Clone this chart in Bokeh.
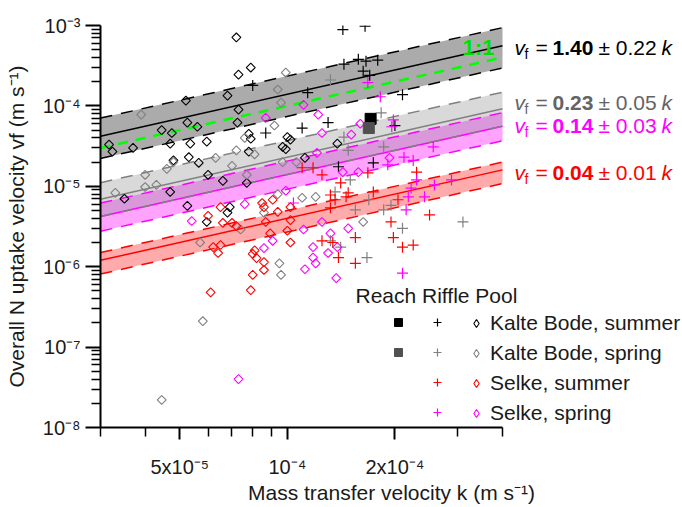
import numpy as np
from bokeh.plotting import figure
from bokeh.models import FixedTicker, Label, Legend, LegendItem, Range1d
from bokeh.embed import file_html
from bokeh.resources import INLINE
from bokeh.core.properties import value

FONT = "Liberation Sans"

# ---------------- data ----------------
# Kalte Bode, summer
kb_su_pool_k = [7.2e-5, 7.3e-5, 7.9e-5, 5.2e-5, 6.8e-5, 7.3e-5, 3.17e-5, 3.24e-5, 3.7e-5, 4.45e-5,
                4.75e-5, 4.7e-5, 5.25e-5, 5.6e-5, 5.35e-5, 5.95e-5, 7.25e-5, 7.8e-5, 7.9e-5, 4.8e-5,
                5.3e-5, 5.65e-5, 6.0e-5, 6.6e-5, 7.7e-5, 4.7e-5, 3.5e-5, 5.25e-5, 7.8e-5, 9.7e-5,
                1.0e-4, 9.9e-5, 1.12e-4, 1.38e-4, 6.9e-5, 6.8e-5, 5.95e-5, 1.02e-4]
kb_su_pool_v = [7.1e-4, 2.45e-4, 3.0e-4, 1.16e-4, 1.34e-4, 9.0e-5, 3.3e-5, 2.7e-5, 3.0e-5, 5.0e-5,
                4.6e-5, 3.4e-5, 6.2e-5, 5.5e-5, 3.4e-5, 3.6e-5, 6.2e-5, 4.5e-5, 3.9e-5, 2.1e-5,
                2.3e-5, 1.96e-5, 1.39e-5, 1.17e-5, 1.1e-5, 8.5e-6, 7.0e-6, 5.7e-6, 2.7e-5, 3.1e-5,
                4.1e-5, 2.9e-5, 2.26e-5, 3.4e-5, 5.5e-6, 4.7e-6, 3.6e-6, 3.8e-5]
kb_su_riffle_k = [1.43e-4, 1.65e-4, 1.44e-4, 1.58e-4, 1.66e-4, 1.79e-4, 1.63e-4, 1.70e-4, 2.1e-4,
                  2.0e-4, 1.74e-4, 1.39e-4, 8.0e-5, 1.14e-4, 1.1e-4, 1.3e-4, 8.7e-5]
kb_su_riffle_v = [8.9e-4, 9.8e-4, 3.3e-4, 3.8e-4, 3.6e-4, 3.7e-4, 2.7e-4, 2.4e-4, 1.38e-4,
                  5.7e-5, 1.96e-5, 1.75e-5, 1.8e-4, 1.46e-4, 5.3e-5, 6.2e-5, 4.6e-5]
kb_su_reach_k = [1.71e-4]
kb_su_reach_v = [6.9e-5]

# Kalte Bode, spring
kb_sp_pool_k = [3.9e-5, 9.9e-5, 9.4e-5, 9.6e-5, 9.2e-5, 7.6e-5, 8.1e-5, 7.2e-5, 7.0e-5, 6.3e-5,
                4.6e-5, 4.0e-5, 4.3e-5, 4.0e-5, 3.3e-5, 7.7e-5, 9.7e-5, 1.06e-4, 1.1e-4, 1.2e-4,
                8.6e-5, 7.4e-5, 5.7e-5, 9.4e-5, 9.5e-5, 9.6e-5, 5.8e-5, 4.45e-5, 1.63e-4, 4.8e-5]
kb_sp_pool_v = [7.8e-5, 2.6e-4, 1.6e-4, 1.1e-4, 5.7e-5, 4.0e-5, 2.5e-5, 2.8e-5, 1.8e-5, 2.26e-5,
                1.65e-5, 1.39e-5, 1.04e-5, 9.8e-6, 8.3e-6, 1.39e-5, 2.0e-5, 2.0e-5, 7.2e-6, 7.4e-6,
                4.7e-6, 2.9e-6, 2.0e-6, 8.0e-6, 1.1e-6, 7.9e-7, 2.1e-7, 2.2e-8, 3.6e-6, 2.0e-5]
kb_sp_riffle_k = [1.32e-4, 1.83e-4, 1.44e-4, 1.48e-4, 1.86e-4, 1.36e-4, 1.5e-4, 1.55e-4, 1.86e-4,
                  1.69e-4, 1.95e-4, 2.1e-4, 3.1e-4, 1.67e-4, 1.32e-4, 1.41e-4]
kb_sp_riffle_v = [2.1e-4, 8.2e-5, 4.1e-5, 2.8e-5, 3.1e-5, 8.5e-6, 1.2e-5, 5.1e-6, 5.1e-6,
                  6.8e-6, 5.8e-6, 3.0e-6, 3.6e-6, 1.3e-6, 2.1e-6, 1.75e-6]
kb_sp_reach_k = [1.69e-4]
kb_sp_reach_v = [5.3e-5]

# Selke, summer
se_su_riffle_k = [1.41e-4, 1.36e-4, 1.46e-4, 1.74e-4, 1.68e-4, 2.04e-4, 2.3e-4, 2.5e-4, 1.95e-4,
                  1.98e-4, 2.1e-4, 2.25e-4, 1.55e-4, 1.39e-4, 1.55e-4, 1.1e-4, 1.25e-4, 1.32e-4,
                  1.25e-4, 1.34e-4, 1.18e-4, 1.48e-4, 1.32e-4]
se_su_riffle_v = [1.1e-5, 6.8e-6, 7.4e-6, 8.5e-6, 1.47e-5, 6.8e-6, 1.5e-5, 4.4e-6, 3.6e-6,
                  2.3e-6, 1.75e-6, 1.86e-6, 2.3e-6, 1.3e-6, 1.1e-6, 1.7e-5, 1.39e-5, 7.8e-6,
                  2.1e-6, 2.0e-6, 1.7e-5, 8.3e-6, 5.4e-6]
se_su_pool_k = [6.5e-5, 6.0e-5, 6.6e-5, 7.0e-5, 7.2e-5, 8.5e-5, 8.6e-5, 8.7e-5, 9.4e-5, 1.02e-4,
                1.0e-4, 8.95e-5, 8.1e-5, 6.5e-5, 6.2e-5, 6.4e-5, 8.0e-5, 8.2e-5, 8.6e-5, 8.0e-5,
                8.6e-5, 6.1e-5, 7.9e-5, 9.1e-5, 1.02e-4, 1.02e-4]
se_su_pool_v = [5.5e-6, 4.3e-6, 3.5e-6, 3.5e-6, 3.2e-6, 6.2e-6, 5.5e-6, 3.6e-6, 4.8e-6, 3.8e-6,
                2.8e-6, 2.6e-6, 1.6e-6, 1.86e-6, 1.75e-6, 1.48e-6, 1.44e-6, 1.28e-6, 1.14e-6, 7.9e-7,
                9.1e-7, 4.8e-7, 5.1e-7, 6.8e-6, 5.5e-6, 2.0e-6]

# Selke, spring
se_sp_riffle_k = [1.68e-4, 1.82e-4, 1.98e-4, 1.96e-4, 2.56e-4, 2.12e-4, 2.25e-4, 1.91e-4, 2.3e-4,
                  2.58e-4, 2.88e-4, 2.22e-4, 2.18e-4, 2.42e-4, 2.15e-4, 2.1e-4, 1.04e-4]
se_sp_riffle_v = [1.95e-4, 1.3e-4, 6.7e-5, 5.5e-5, 3.1e-5, 2.3e-5, 2.1e-5, 1.85e-5, 1.2e-5,
                  1.04e-5, 1.2e-5, 9.5e-6, 7.4e-6, 7.4e-6, 5.1e-6, 8.3e-7, 6.2e-6]
se_sp_pool_k = [1.11e-4, 1.22e-4, 1.25e-4, 1.21e-4, 8.7e-5, 9.9e-5, 7.6e-5, 5.4e-5, 9.1e-5, 1.11e-4,
                1.25e-4, 1.18e-4, 1.32e-4, 8.6e-5, 1.6e-4, 1.51e-4, 1.93e-4, 1.43e-4, 1.58e-4, 1.48e-4,
                1.38e-4, 1.12e-4, 1.18e-4, 1.2e-4, 1.3e-4, 1.37e-4, 7.3e-5]
se_sp_pool_v = [1.03e-4, 7.8e-5, 4.6e-5, 2.6e-5, 7.1e-5, 8.8e-6, 6.0e-6, 3.7e-6, 2.1e-6, 2.9e-6,
                3.6e-6, 1.75e-6, 2.6e-6, 1.7e-6, 6.0e-5, 4.4e-5, 2.26e-5, 1.5e-5, 1.5e-5, 3.0e-6,
                1.75e-6, 9.3e-7, 1.3e-6, 1.1e-6, 1.48e-6, 7.2e-7, 4.0e-8]

# fits v_f = a * k, with the shaded band limits (as multiples of k)
fit_k_extent = [3e-5, 4e-4]
fit_names = ["Kalte Bode, summer", "Kalte Bode, spring", "Selke, spring", "Selke, summer"]
fit_coef = [1.40, 0.23, 0.14, 0.04]
fit_pm = [0.22, 0.05, 0.03, 0.01]
fit_band_hi = [2.35, 0.37, 0.206, 0.050]
fit_band_lo = [0.74, 0.14, 0.092, 0.027]

x_ticks = [5e-5, 1e-4, 2e-4]
x_tick_labels = ["5x10\u207b\u2075", "10\u207b\u2074", "2x10\u207b\u2074"]
x_minor = [3e-5, 4e-5, 6e-5, 7e-5, 8e-5, 9e-5, 3e-4, 4e-4]
y_ticks = [1e-8, 1e-7, 1e-6, 1e-5, 1e-4, 1e-3]
y_tick_labels = ["10\u207b\u2078", "10\u207b\u2077", "10\u207b\u2076", "10\u207b\u2075",
                 "10\u207b\u2074", "10\u207b\u00b3"]

# ---------------- layout ----------------
X0, X1 = fit_k_extent          # drawn extent of the x axis
AXIS_W, FRAME_W, FRAME_H = 402, 582, 402
x_right = X0 * 10 ** (FRAME_W / AXIS_W * np.log10(X1 / X0))   # frame extends under the right-hand texts

p = figure(frame_width=FRAME_W, frame_height=FRAME_H, x_axis_type="log", y_axis_type="log",
           x_range=Range1d(X0, x_right), y_range=Range1d(1e-8, 1e-3),
           output_backend="svg", toolbar_location=None,
           min_border_left=100, min_border_right=0, min_border_top=25, min_border_bottom=80)
p.grid.visible = False
p.outline_line_color = None

band_style = {
    "Kalte Bode, summer": dict(fill="#000000", alpha=0.33, line="#000000"),
    "Kalte Bode, spring": dict(fill="#808080", alpha=0.30, line="#808080"),
    "Selke, spring": dict(fill="#ff00ff", alpha=0.36, line="#ff00ff"),
    "Selke, summer": dict(fill="#ff0000", alpha=0.33, line="#ff0000"),
}
kx = np.array(fit_k_extent)
draw_order = ["Selke, summer", "Selke, spring", "Kalte Bode, spring", "Kalte Bode, summer"]
for name in draw_order:
    i = fit_names.index(name)
    st = band_style[name]
    p.varea(x=kx, y1=fit_band_lo[i] * kx, y2=fit_band_hi[i] * kx,
            fill_color=st["fill"], fill_alpha=st["alpha"])

for name in draw_order:
    i = fit_names.index(name)
    st = band_style[name]
    p.line(kx, fit_coef[i] * kx, line_color=st["line"], line_width=1.5)
    p.line(kx, fit_band_hi[i] * kx, line_color=st["line"], line_width=1.5, line_dash="12 9")
    p.line(kx, fit_band_lo[i] * kx, line_color=st["line"], line_width=1.5, line_dash="12 9")

# 1:1 line
p.line(kx, kx, line_color="#00ff00", line_width=2.5, line_dash="10 8")

DIAM = dict(marker="square", angle=np.pi / 4, size=6.3, fill_color=None, line_width=1.1)
CROSS = dict(marker="cross", size=11, line_width=1.2)

series = [
    ("#000000", kb_su_riffle_k, kb_su_riffle_v, kb_su_pool_k, kb_su_pool_v),
    ("#808080", kb_sp_riffle_k, kb_sp_riffle_v, kb_sp_pool_k, kb_sp_pool_v),
    ("#ff0000", se_su_riffle_k, se_su_riffle_v, se_su_pool_k, se_su_pool_v),
    ("#ff00ff", se_sp_riffle_k, se_sp_riffle_v, se_sp_pool_k, se_sp_pool_v),
]
leg_names = ["Kalte Bode, summer", "Kalte Bode, spring", "Selke, summer", "Selke, spring"]
riffle_items, pool_items = [], []
for (c, rk, rv, pk, pv), nm in zip(series, leg_names):
    p.scatter(pk, pv, line_color=c, **DIAM)
    rr = p.scatter(rk, rv, line_color=c, **CROSS)
    # legend-only glyph for the pool symbol (a NaN point, never drawn in the plot)
    dummy = p.scatter(x=[np.nan], y=[np.nan], marker="diamond", line_color=c,
                      fill_color=None, line_width=1.1)
    riffle_items.append(LegendItem(label=value(" "), renderers=[rr]))
    pool_items.append(LegendItem(label=value(nm), renderers=[dummy]))

r1 = p.scatter(kb_su_reach_k, kb_su_reach_v, marker="square", size=11, fill_color="#000000", line_color="#000000")
r2 = p.scatter(kb_sp_reach_k, kb_sp_reach_v, marker="square", size=11, fill_color="#505050", line_color="#505050")
reach_items = [LegendItem(label=value(" "), renderers=[r1]), LegendItem(label=value(" "), renderers=[r2])]


def make_legend(items, loc, standoff=2, spacing=10, fs="20px"):
    lg = Legend(items=items, location=loc, orientation="vertical",
                glyph_width=20, glyph_height=20, label_height=20, spacing=spacing,
                padding=0, margin=0, label_standoff=standoff,
                border_line_alpha=0, background_fill_alpha=0,
                label_text_font=FONT, label_text_font_size=fs, label_text_color="#1a1a1a")
    p.add_layout(lg)
    return lg


make_legend(reach_items, (288, 65))
make_legend(riffle_items, (327, 5))
make_legend(pool_items, (366, 2), standoff=4, spacing=6, fs="21px")

p.add_layout(Label(x=255, y=132, x_units="screen", y_units="screen", text="Reach Riffle Pool",
                   text_font=FONT, text_font_size="21px", text_baseline="middle", text_color="#1a1a1a"))

# 1:1 label
p.add_layout(Label(x=362, y=380, x_units="screen", y_units="screen", text="1:1",
                   text_font=FONT, text_font_size="22px", text_font_style="bold",
                   text_baseline="middle", text_color="#00e000"))

# equations on the right
eq_rows = [("Kalte Bode, summer", 380, "#000000"), ("Kalte Bode, spring", 325, "#646464"),
           ("Selke, spring", 302, "#ff00ff"), ("Selke, summer", 255, "#ff0000")]
for name, yy, col in eq_rows:
    i = fit_names.index(name)
    parts = [
        (414, 0, "v", "italic", "21px"),
        (424, -6, "f", "normal", "14px"),
        (435, 0, "=", "normal", "21px"),
        (452, 0, f"{fit_coef[i]:.2f}", "bold", "21px"),
        (498, 0, f"\u00b1 {fit_pm[i]:.2f}", "normal", "21px"),
        (561, 0, "k", "italic", "21px"),
    ]
    for xx, dy, txt, style, fs in parts:
        p.add_layout(Label(x=xx, y=yy + dy, x_units="screen", y_units="screen", text=txt,
                           text_font=FONT, text_font_size=fs, text_font_style=style,
                           text_baseline="middle", text_color=col))

# axes
p.xaxis.bounds = (X0, X1)
p.xaxis.ticker = FixedTicker(ticks=x_ticks, minor_ticks=x_minor)
p.xaxis.major_label_overrides = {t: s for t, s in zip(x_ticks, x_tick_labels)}
p.yaxis.ticker = FixedTicker(ticks=y_ticks,
                             minor_ticks=[m * t for t in y_ticks[:-1] for m in range(2, 10)])
p.yaxis.major_label_overrides = {t: s for t, s in zip(y_ticks, y_tick_labels)}

for ax in (p.xaxis, p.yaxis):
    ax.axis_line_width = 2
    ax.axis_line_color = "#000000"
    ax.major_tick_line_width = 2
    ax.minor_tick_line_width = 1.5
    ax.major_tick_in = 0
    ax.minor_tick_in = 0
    ax.minor_tick_out = 9
    ax.major_label_text_font = FONT
    ax.major_label_text_font_size = "20px"
    ax.major_label_text_color = "#1a1a1a"
    ax.axis_label_text_font = FONT
    ax.axis_label_text_font_size = "21px"
    ax.axis_label_text_font_style = "normal"
    ax.axis_label_text_color = "#1a1a1a"

p.xaxis.major_tick_out = 12
p.yaxis.major_tick_out = 15
p.xaxis.major_label_standoff = 16
p.yaxis.major_label_standoff = 5
p.xaxis.axis_label = "Mass transfer velocity k (m s\u207b\u00b9)"
p.yaxis.axis_label = "Overall N uptake velocity vf (m s\u207b\u00b9)"
p.xaxis.axis_label_standoff = 0
p.yaxis.axis_label_standoff = 12

open("out.html", "w").write(file_html(p, INLINE))
